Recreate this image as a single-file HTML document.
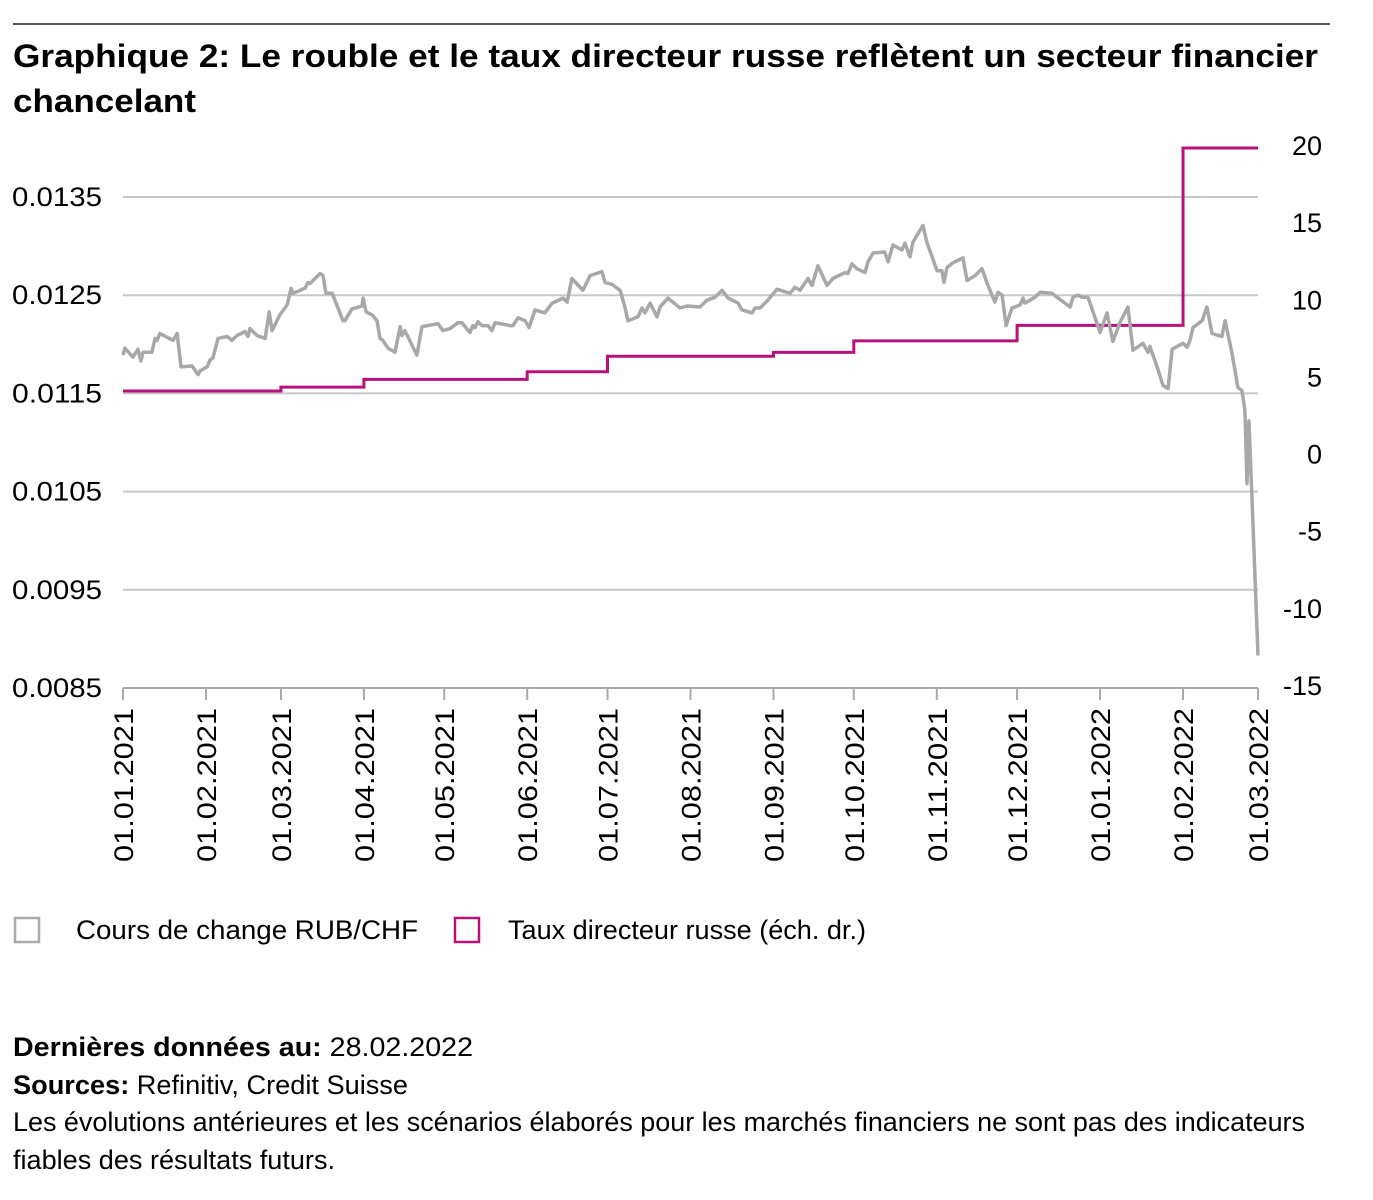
<!DOCTYPE html>
<html><head><meta charset="utf-8"><style>
body{margin:0;background:#fff;font-family:"Liberation Sans",Arial,sans-serif;color:#111}
svg{display:block}
</style></head><body>
<svg id="chart" width="1373" height="1200" viewBox="0 0 1373 1200">
<line x1="13" y1="24" x2="1330" y2="24" stroke="#222" stroke-width="1.5"/>
<text x="13" y="67" font-size="32" font-weight="bold" textLength="1305" lengthAdjust="spacingAndGlyphs">Graphique 2: Le rouble et le taux directeur russe reflètent un secteur financier</text>
<text x="13" y="112" font-size="32" font-weight="bold" textLength="183" lengthAdjust="spacingAndGlyphs">chancelant</text>
<g id="grid"></g><g id="series"></g><g id="axes"></g>
<g>
<rect x="15" y="918" width="24" height="24" fill="none" stroke="#aaa" stroke-width="2.5"/>
<text x="76" y="939" font-size="27" textLength="342" lengthAdjust="spacingAndGlyphs">Cours de change RUB/CHF</text>
<rect x="455" y="918" width="24" height="24" fill="none" stroke="#b8127a" stroke-width="2.5"/>
<text x="508" y="939" font-size="27" textLength="358" lengthAdjust="spacingAndGlyphs">Taux directeur russe (éch. dr.)</text>
</g>
<text x="13" y="1056" font-size="27" textLength="460" lengthAdjust="spacingAndGlyphs"><tspan font-weight="bold">Dernières données au:</tspan> 28.02.2022</text>
<text x="13" y="1094" font-size="27" textLength="395" lengthAdjust="spacingAndGlyphs"><tspan font-weight="bold">Sources:</tspan> Refinitiv, Credit Suisse</text>
<text x="13" y="1131" font-size="27" textLength="1292" lengthAdjust="spacingAndGlyphs">Les évolutions antérieures et les scénarios élaborés pour les marchés financiers ne sont pas des indicateurs</text>
<text x="13" y="1169" font-size="27" textLength="322" lengthAdjust="spacingAndGlyphs">fiables des résultats futurs.</text>
</svg>
<script>
const leftTicks=[0.0135,0.0125,0.0115,0.0105,0.0095,0.0085];
const leftTickLabels=["0.0135","0.0125","0.0115","0.0105","0.0095","0.0085"];
const rightTicks=[20,15,10,5,0,-5,-10,-15];
const monthDays=[0,31,59,90,120,151,181,212,243,273,304,334,365,396,424];
const monthLabels=["01.01.2021","01.02.2021","01.03.2021","01.04.2021","01.05.2021","01.06.2021","01.07.2021","01.08.2021","01.09.2021","01.10.2021","01.11.2021","01.12.2021","01.01.2022","01.02.2022","01.03.2022"];
const rubDays=[0,0.7,3.7,5.6,6.7,7.5,10.8,12,12.7,13.8,18.7,20.2,21.7,25.8,28,28.8,31.4,32.5,33.6,35.5,38.9,40.7,42.6,45.6,46.7,47.4,50.1,53.1,54.6,55.7,58.6,61.3,62.8,63.5,68,69.1,69.9,73.6,74.7,75.8,78.1,82.2,82.9,85.5,89.3,89.7,90.8,93,94.9,96,97.1,99,101.6,103.5,104.2,105.3,109.8,111.7,117.7,119.5,122.2,125.1,126.6,129.6,130.7,131.5,132.6,134.1,136.3,137.8,139,144.6,145.7,147.6,150.2,151.7,153.9,157.6,160.3,164.4,165.9,167.7,171.8,174.5,178.9,180.1,182.7,185.7,187.5,188.6,192.4,193.9,195,196.9,199.5,200.6,203.6,208.1,210.7,215.5,218.2,221.2,223.8,226,229.8,231.2,235,236.1,238,240.9,244.3,248,249.2,251,252.9,255.9,257.4,259.6,263,265.2,269.7,270.8,272.3,274.2,277.2,278.3,280.2,284.6,285.8,287.6,291,292.1,294,295.1,298.8,300.3,304.1,305.9,306.7,307.8,310,313.8,315.3,318.3,320.9,322.7,325.7,326.9,328.4,329.9,332.1,335.1,336.2,336.9,340.7,342.6,347,348.9,353.8,354.9,356.7,358.2,360.5,365,367.6,369.8,372.4,375.4,377.3,381,382.9,383.6,386.3,388.5,390.4,391.9,396,397.5,398.6,399.7,403.1,404.9,406.8,410.5,411.7,414.3,416.5,418,419.1,419.9,420.6,421.7,424];
const rubValues=[0.01189,0.01196,0.01187,0.01195,0.01183,0.01192,0.01192,0.01206,0.01204,0.01211,0.01204,0.01211,0.01177,0.01178,0.01169,0.01173,0.01177,0.01184,0.01186,0.01206,0.01208,0.01204,0.01209,0.01213,0.01208,0.01216,0.01209,0.01206,0.01233,0.01214,0.01230,0.01240,0.01257,0.01252,0.01257,0.01263,0.01262,0.01272,0.01270,0.01252,0.01252,0.01224,0.01224,0.01236,0.01239,0.01247,0.01233,0.01230,0.01224,0.01206,0.01204,0.01196,0.01192,0.01218,0.01209,0.01214,0.01189,0.01218,0.01221,0.01214,0.01216,0.01222,0.01222,0.01212,0.01219,0.01217,0.01223,0.01219,0.01219,0.01214,0.01222,0.01219,0.01219,0.01227,0.01224,0.01217,0.01235,0.01232,0.01242,0.01247,0.01243,0.01267,0.01255,0.01270,0.01274,0.01263,0.01261,0.01255,0.01238,0.01224,0.01228,0.01237,0.01232,0.01242,0.01228,0.01238,0.01247,0.01237,0.01239,0.01238,0.01245,0.01248,0.01255,0.01247,0.01242,0.01235,0.01232,0.01237,0.01237,0.01245,0.01256,0.01253,0.01252,0.01258,0.01255,0.01267,0.01260,0.01280,0.01260,0.01267,0.01273,0.01272,0.01282,0.01277,0.01273,0.01284,0.01293,0.01294,0.01284,0.01301,0.01296,0.01303,0.01289,0.01304,0.01321,0.01304,0.01275,0.01275,0.01263,0.01278,0.01283,0.01288,0.01265,0.01270,0.01277,0.01263,0.01243,0.01253,0.01250,0.01219,0.01237,0.01240,0.01247,0.01242,0.01248,0.01253,0.01252,0.01248,0.01238,0.01248,0.01250,0.01248,0.01248,0.01212,0.01232,0.01203,0.01222,0.01238,0.01194,0.01201,0.01192,0.01198,0.01177,0.01158,0.01155,0.01195,0.01201,0.01197,0.01204,0.01217,0.01224,0.01238,0.01211,0.01208,0.01224,0.01191,0.01156,0.01153,0.01133,0.01058,0.01122,0.01048,0.00883];
const rateDays=[0,59,90,151,181,243,273,334,396,424];
const rateValues=[4.25,4.5,5.0,5.5,6.5,6.75,7.5,8.5,20,20];

const NS="http://www.w3.org/2000/svg";
const X0=123,X1=1258,YB=688,YT=197;
const xs=d=>X0+(X1-X0)*d/424;
const yl=v=>YB-(v-0.0085)/(0.0135-0.0085)*(YB-YT);
const yr=v=>688-(v+15)/35*(688-148);
function mk(tag,attrs,parent){const e=document.createElementNS(NS,tag);for(const k in attrs)e.setAttribute(k,attrs[k]);parent.appendChild(e);return e;}
const grid=document.getElementById('grid'),axes=document.getElementById('axes'),series=document.getElementById('series');
leftTicks.forEach((v,i)=>{
  const y=yl(v);
  const g=mk('line',{x1:X0,x2:X1,y1:y,y2:y,stroke:i===leftTicks.length-1?'#aaa':'#c8c8c8','stroke-width':2},grid);
  
  
  const t=mk('text',{x:12,y:y+9,'font-size':27,textLength:90,lengthAdjust:'spacingAndGlyphs'},axes);t.textContent=leftTickLabels[i];
  
  
});
rightTicks.forEach(v=>{
  const s=String(v);
  const t=mk('text',{x:1322,y:yr(v)+7,'font-size':27,'text-anchor':'end'},axes);t.textContent=s;
  
  
});
monthDays.forEach((d,i)=>{
  const x=xs(d);
  const tk=mk('line',{x1:x,x2:x,y1:YB,y2:YB+12,stroke:'#aaa','stroke-width':2},axes);
  
  
  const t=mk('text',{x:0,y:0,'font-size':27,'text-anchor':'end',textLength:154,lengthAdjust:'spacingAndGlyphs',transform:`translate(${x+10},708) rotate(-90)`},axes);
  t.textContent=monthLabels[i];
  
  
});
let rp='';rateDays.forEach((d,i)=>{const x=xs(d),y=yr(rateValues[i]);if(i===0)rp+=`M${x},${y}`;else{rp+=`L${x},${yr(rateValues[i-1])}L${x},${y}`;}});
const rl=mk('path',{d:rp,fill:'none',stroke:'#b8127a','stroke-width':3},series);


const gp=rubDays.map((d,i)=>(i?'L':'M')+xs(d).toFixed(1)+','+yl(rubValues[i]).toFixed(1)).join('');
const gl=mk('path',{d:gp,fill:'none',stroke:'#a8a8a8','stroke-width':3.5,'stroke-linejoin':'round'},series);


</script>
</body></html>
